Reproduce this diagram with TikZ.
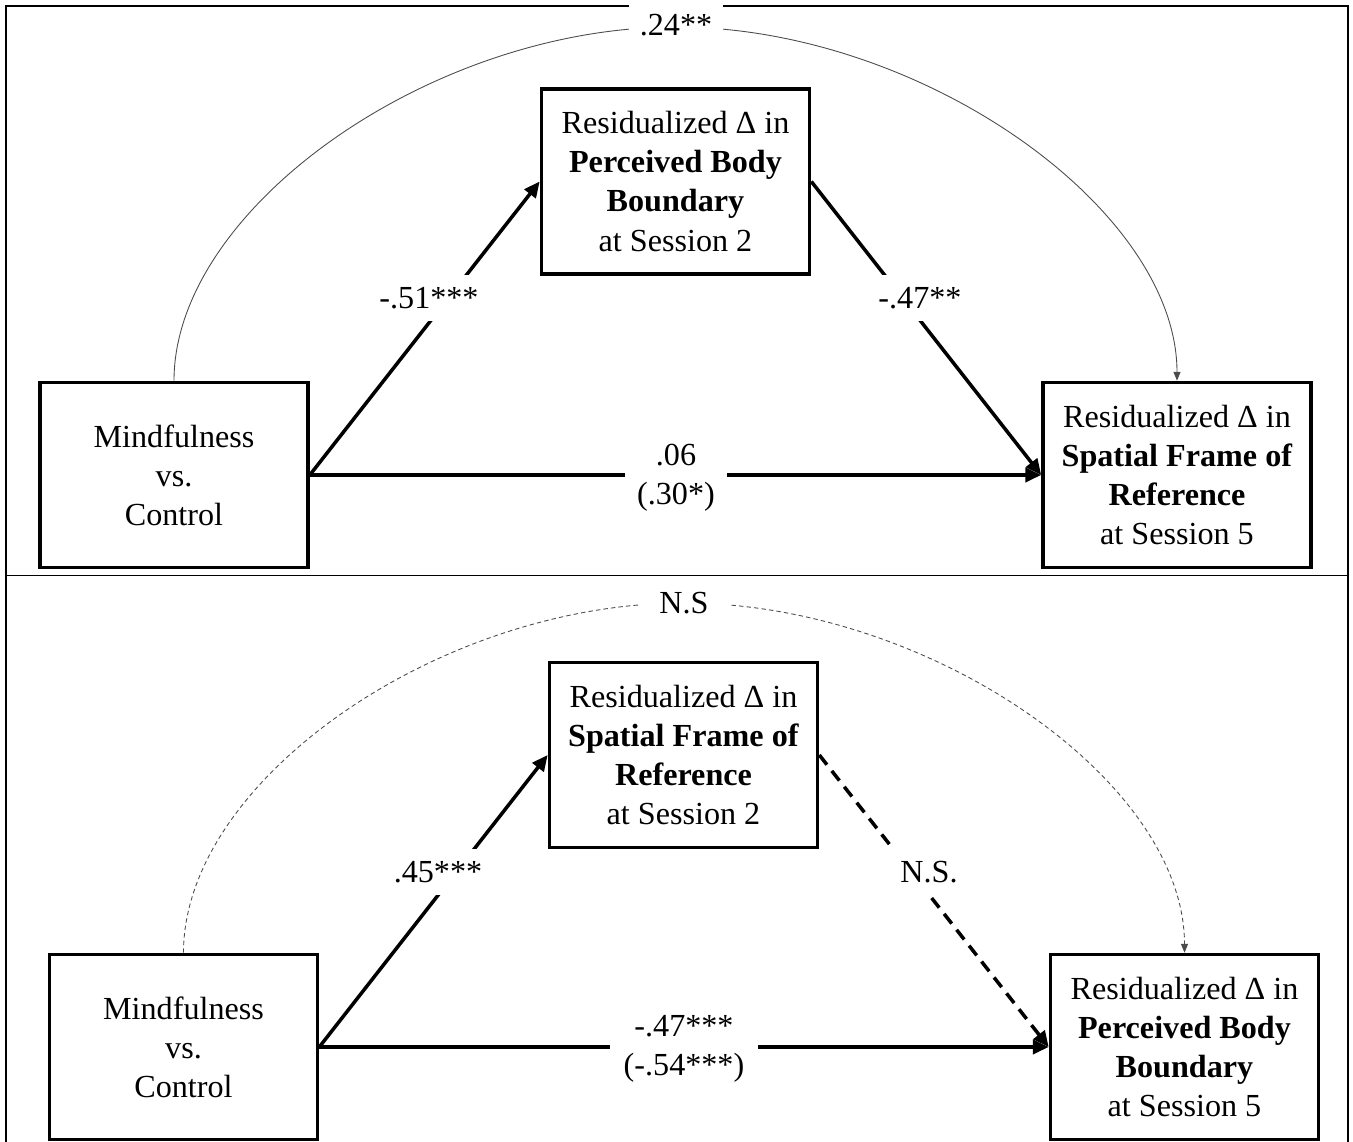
\documentclass[tikz,border=0pt]{standalone}
\usepackage{fontspec}
\setmainfont{Liberation Serif}
\usetikzlibrary{arrows.meta,calc}
\newcommand\dgfont{\fontsize{18.3}{22.2}\selectfont}
\begin{document}
\begin{tikzpicture}[x=0.02cm,y=-0.02cm,
  box/.style={draw, line width=2.1pt, minimum width=5.36cm, minimum height=3.7cm, inner sep=0pt, align=center, font=\dgfont},
  pth/.style={line width=2pt, -{Triangle[length=9pt,width=8pt]}},
  lab/.style={fill=white, inner xsep=6pt, inner ysep=7pt, align=center, font=\dgfont},
  curve/.style={line width=0.5pt, draw=black!70, -{Triangle[length=5pt,width=4pt]}},
  dcurve/.style={curve, dash pattern=on 2.5pt off 1.8pt}]
\useasboundingbox (0,0) rectangle (1353,1142);
\draw[line width=0.8pt] (6,1142) -- (6,6) -- (1348,6) -- (1348,1142);
\draw[line width=0.5pt] (6,575) -- (1348,575);

% ---------- top panel ----------
\node[box] (a1) at (174,475) {Mindfulness\\vs.\\Control};
\node[box] (m1) at (675.5,181.5) {Residualized Δ in\\\textbf{Perceived Body}\\\textbf{Boundary}\\at Session 2};
\node[box] (c1) at (1177,475) {Residualized Δ in\\\textbf{Spatial Frame of}\\\textbf{Reference}\\at Session 5};
\draw[pth] (a1.east) -- (m1.west);
\draw[pth] (m1.east) -- (c1.west);
\draw[pth] (a1.east) -- (c1.west);
\coordinate (t1) at (676,27);
\draw[curve] (a1.north) .. controls +(0,-172) and +(-245,0) .. (t1) .. controls +(245,0) and +(0,-172) .. (c1.north);
\node[lab] (l1) at (676,25) {.24**};
\node[lab] (l2) at (429,298) {-.51***};
\node[lab] (l3) at (920,298) {-.47**};
\node[lab, inner xsep=7pt] (l4) at (676,478) {.06\\(.30*)};

% ---------- bottom panel ----------
\node[box] (a2) at (183.5,1047) {Mindfulness\\vs.\\Control};
\node[box] (m2) at (683.5,755) {Residualized Δ in\\\textbf{Spatial Frame of}\\\textbf{Reference}\\at Session 2};
\node[box] (c2) at (1184.5,1047) {Residualized Δ in\\\textbf{Perceived Body}\\\textbf{Boundary}\\at Session 5};
\draw[pth] (a2.east) -- (m2.west);
\draw[pth, dash pattern=on 7pt off 4.5pt] (m2.east) -- (c2.west);
\draw[pth] (a2.east) -- (c2.west);
\coordinate (t2) at (684,603);
\draw[dcurve] (a2.north) .. controls +(0,-172) and +(-245,0) .. (t2) .. controls +(245,0) and +(0,-172) .. (c2.north);
\node[lab, inner xsep=12pt] (k1) at (684,603) {N.S};
\node[lab] (k2) at (438,872) {.45***};
\node[lab] (k3) at (929,872) {N.S.};
\node[lab, inner xsep=8pt] (k4) at (684,1049) {-.47***\\(-.54***)};
\end{tikzpicture}
\end{document}
